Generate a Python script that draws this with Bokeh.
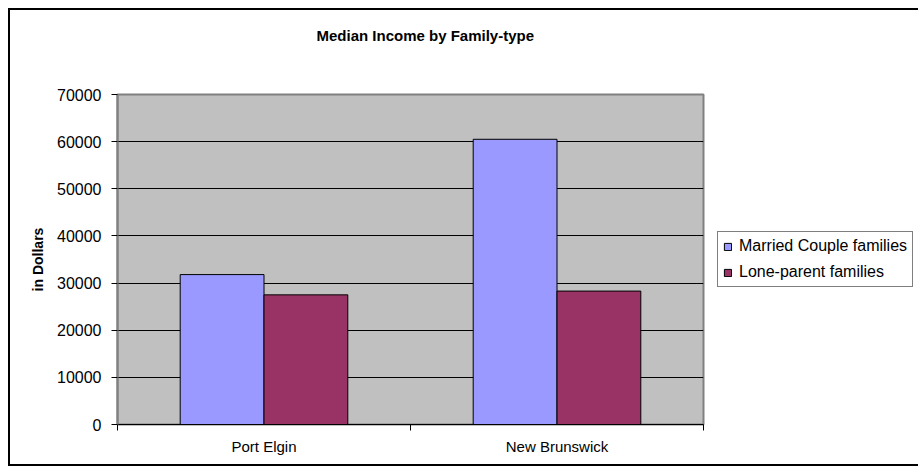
from bokeh.plotting import figure
from bokeh.models import (ColumnDataSource, FixedTicker, Range1d, Legend, LegendItem, Title)
from bokeh.transform import dodge
from bokeh.embed import file_html
from bokeh.resources import INLINE

# ---- data ----
categories = ["Port Elgin", "New Brunswick"]
married = [31800, 60500]
lone_parent = [27500, 28300]
series_names = ["Married Couple families", "Lone-parent families"]
y_ticks = [0, 10000, 20000, 30000, 40000, 50000, 60000, 70000]
title_text = "Median Income by Family-type"
y_label = "in Dollars"

FONT = "Liberation Sans"

xs = [i + 0.5 for i in range(len(categories))]
src = ColumnDataSource(dict(x=xs, married=married, lone=lone_parent))

p = figure(frame_width=586, frame_height=330, output_backend="svg", toolbar_location=None,
           x_range=Range1d(0, len(categories)), y_range=Range1d(y_ticks[0], y_ticks[-1]),
           min_border_left=107, min_border_right=205, min_border_top=84, min_border_bottom=40)
p.title = None
p.styles = {"border": "2px solid black", "margin": "8px"}
p.background_fill_color = "#C0C0C0"
p.border_fill_color = "white"
p.outline_line_color = "#808080"
p.outline_line_width = 2

# spacer (closest to the frame), then the real title above it
spacer = Title(text=" ", text_font=FONT, text_font_size="10px", standoff=38)
p.add_layout(spacer, "above")
main_title = Title(text=title_text, text_font=FONT, text_font_size="15px",
                   text_font_style="bold", text_color="black", align="left",
                   offset=199, standoff=0)
p.add_layout(main_title, "above")

bw = 0.286
r1 = p.vbar(x=dodge("x", -bw / 2, range=p.x_range), top="married", width=bw, source=src,
            fill_color="#9999FF", line_color="black", line_width=1)
r2 = p.vbar(x=dodge("x", bw / 2, range=p.x_range), top="lone", width=bw, source=src,
            fill_color="#993366", line_color="black", line_width=1)

# y axis
p.yaxis.ticker = FixedTicker(ticks=y_ticks)
p.yaxis.axis_line_color = "#808080"
p.yaxis.axis_line_width = 2
p.yaxis.major_tick_out = 6
p.yaxis.major_tick_in = 0
p.yaxis.minor_tick_line_color = None
p.yaxis.major_tick_line_color = "black"
p.yaxis.major_label_text_font = FONT
p.yaxis.major_label_text_font_size = "16px"
p.yaxis.major_label_text_color = "black"
p.yaxis.major_label_standoff = 10
p.yaxis.axis_label = y_label
p.yaxis.axis_label_text_font = FONT
p.yaxis.axis_label_text_font_size = "14px"
p.yaxis.axis_label_text_font_style = "bold"
p.yaxis.axis_label_text_color = "black"
p.yaxis.axis_label_standoff = 8

# x axis: labels at category centres, tick marks at category boundaries
p.xaxis.ticker = FixedTicker(ticks=xs, minor_ticks=list(range(len(categories) + 1)))
p.xaxis.major_label_overrides = {x: c for x, c in zip(xs, categories)}
p.xaxis.major_tick_out = 0
p.xaxis.major_tick_in = 0
p.xaxis.minor_tick_out = 6
p.xaxis.minor_tick_in = 0
p.xaxis.minor_tick_line_color = "black"
p.xaxis.axis_line_color = "black"
p.xaxis.major_label_text_font = FONT
p.xaxis.major_label_text_font_size = "15px"
p.xaxis.major_label_text_color = "black"
p.xaxis.major_label_standoff = 7

p.xgrid.visible = False
p.ygrid.ticker = FixedTicker(ticks=y_ticks[1:-1])
p.ygrid.grid_line_color = "black"
p.ygrid.grid_line_width = 1

legend = Legend(items=[LegendItem(label=series_names[0], renderers=[r1]),
                       LegendItem(label=series_names[1], renderers=[r2])],
                location=(14, 137))
legend.background_fill_color = "white"
legend.background_fill_alpha = 1
legend.border_line_color = "black"
legend.border_line_width = 1
legend.padding = 5
legend.spacing = 8
legend.margin = 0
legend.glyph_width = 9
legend.glyph_height = 9
legend.label_height = 15
legend.label_standoff = 7
legend.label_text_font = FONT
legend.label_text_font_size = "16px"
legend.label_text_color = "black"
legend.label_text_baseline = "middle"
p.add_layout(legend, "right")

open("out.html", "w").write(file_html(p, INLINE))
